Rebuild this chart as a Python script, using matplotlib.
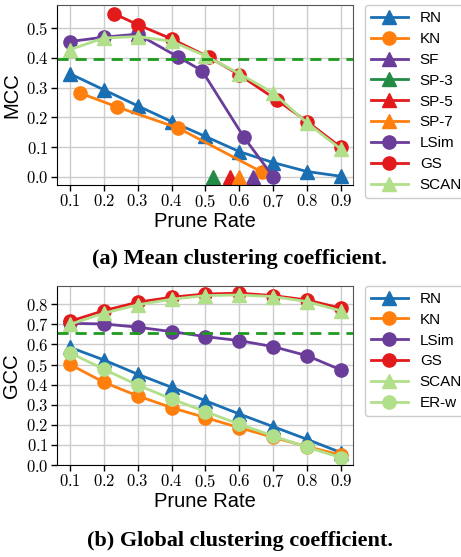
import numpy as np
import matplotlib
matplotlib.use('Agg')
import matplotlib.pyplot as plt

plt.rcParams['mathtext.fontset'] = 'cm'
plt.rcParams['font.family'] = ['Liberation Sans', 'DejaVu Sans']

# cores
c_rn = '#1a6fb3'
c_kn = '#ff7f0e'
c_pur = '#6a3d9a'
c_red = '#e31a1c'
c_lg = '#b2df8a'
c_dg = '#238b45'
c_ref = '#1f9a1f'

# ---- dados (a) MCC ----
x = [0.1, 0.2, 0.3, 0.4, 0.5, 0.6, 0.7, 0.8, 0.9]
mcc_rn = [0.347, 0.293, 0.239, 0.186, 0.136, 0.085, 0.048, 0.018, 0.002]
kn_x = [0.13, 0.24, 0.42, 0.667]
mcc_kn = [0.282, 0.235, 0.164, 0.016]
sf_x = [0.3, np.nan, 0.64]
mcc_sf = [0.48, np.nan, 0.0]
sp3_x, mcc_sp3 = [0.521], [0.0]
sp5_x, mcc_sp5 = [0.571], [0.0]
sp7_x, mcc_sp7 = [0.60], [0.0]
lsim_x = [0.1, 0.2, 0.3, 0.42, 0.49, 0.613, 0.70]
mcc_lsim = [0.455, 0.47, 0.48, 0.403, 0.357, 0.134, 0.0]
gs_x = [0.23, 0.3, 0.4, 0.51, 0.6, 0.71, 0.8, 0.9]
mcc_gs = [0.549, 0.512, 0.464, 0.403, 0.343, 0.259, 0.186, 0.099]
mcc_scan = [0.428, 0.467, 0.472, 0.456, 0.407, 0.347, 0.282, 0.181, 0.093]
mcc_ref = 0.396

# ---- dados (b) GCC ----
gcc_rn = [0.586, 0.523, 0.452, 0.387, 0.32, 0.254, 0.191, 0.128, 0.062]
gcc_kn = [0.501, 0.412, 0.344, 0.286, 0.236, 0.186, 0.138, 0.092, 0.05]
gcc_lsim = [0.705, 0.702, 0.686, 0.664, 0.639, 0.619, 0.589, 0.544, 0.473]
gcc_gs = [0.715, 0.768, 0.81, 0.835, 0.851, 0.855, 0.843, 0.821, 0.78]
gcc_scan = [0.70, 0.755, 0.797, 0.825, 0.843, 0.846, 0.838, 0.813, 0.767]
gcc_erw = [0.559, 0.477, 0.398, 0.329, 0.266, 0.203, 0.145, 0.089, 0.037]
gcc_ref = 0.657

fig = plt.figure(figsize=(4.61, 5.57), dpi=100)
ax1 = fig.add_axes([0.1236, 0.668, 0.642, 0.323])
ax2 = fig.add_axes([0.1236, 0.165, 0.642, 0.322])

ms = 9.5
lw = 2


def estilo(ax, yticks, ylim, ylabel):
    ax.set_xlim(0.062, 0.935)
    ax.set_ylim(*ylim)
    ax.set_xticks(x)
    ax.set_xticklabels(['$%.1f$' % v for v in x], fontsize=12)
    ax.set_yticks(yticks)
    ax.set_yticklabels(['$%.1f$' % v for v in yticks], fontsize=12)
    ax.grid(True, color='#cccccc', lw=1)
    ax.set_axisbelow(True)
    ax.tick_params(direction='out', length=4, width=1, pad=2)
    for s in ['top', 'right']:
        ax.spines[s].set_color('#555555')
    ax.set_xlabel('Prune Rate', fontsize=14.5, labelpad=1)
    ax.set_ylabel(ylabel, fontsize=14.5, labelpad=3)


def legenda(ax):
    ax.legend(loc='upper left', bbox_to_anchor=(1.04, 1.0), fontsize=11,
              handlelength=2.4, borderaxespad=0, labelspacing=0.45,
              borderpad=0.4, handletextpad=0.8, framealpha=1)


# gráfico (a)
ax1.plot(x, mcc_rn, '-^', color=c_rn, lw=lw, ms=ms, label='RN')
ax1.plot(kn_x, mcc_kn, '-o', color=c_kn, lw=lw, ms=ms, label='KN')
ax1.plot(sf_x, mcc_sf, '-^', color=c_pur, lw=lw, ms=ms, label='SF')
ax1.plot(sp3_x, mcc_sp3, '-^', color=c_dg, lw=lw, ms=ms, label='SP-3')
ax1.plot(sp5_x, mcc_sp5, '-^', color=c_red, lw=lw, ms=ms, label='SP-5')
ax1.plot(sp7_x, mcc_sp7, '-^', color=c_kn, lw=lw, ms=ms, label='SP-7')
ax1.plot(lsim_x, mcc_lsim, '-o', color=c_pur, lw=lw, ms=ms, label='LSim')
ax1.plot(gs_x, mcc_gs, '-o', color=c_red, lw=lw, ms=ms, label='GS')
ax1.plot(x, mcc_scan, '-^', color=c_lg, lw=lw, ms=ms, label='SCAN')
ax1.axhline(mcc_ref, color=c_ref, lw=2, ls='--', dashes=(4, 2.5))
estilo(ax1, [0.0, 0.1, 0.2, 0.3, 0.4, 0.5], (-0.027, 0.578), 'MCC')
legenda(ax1)

# gráfico (b)
ax2.plot(x, gcc_rn, '-^', color=c_rn, lw=lw, ms=ms, label='RN')
ax2.plot(x, gcc_kn, '-o', color=c_kn, lw=lw, ms=ms, label='KN')
ax2.plot(x, gcc_lsim, '-o', color=c_pur, lw=lw, ms=ms, label='LSim')
ax2.plot(x, gcc_gs, '-o', color=c_red, lw=lw, ms=ms, label='GS')
ax2.plot(x, gcc_scan, '-^', color=c_lg, lw=lw, ms=ms, label='SCAN')
ax2.plot(x, gcc_erw, '-o', color=c_lg, lw=lw, ms=ms, label='ER-w')
ax2.axhline(gcc_ref, color=c_ref, lw=2, ls='--', dashes=(4, 2.5))
estilo(ax2, [0.0, 0.1, 0.2, 0.3, 0.4, 0.5, 0.6, 0.7, 0.8], (0.0, 0.892), 'GCC')
legenda(ax2)

# legendas das figuras
fig.text(0.52, 1 - 259 / 557, '(a) Mean clustering coefficient.', ha='center',
         va='center', fontsize=16, fontweight='bold', family='Liberation Serif')
fig.text(0.52, 1 - 541 / 557, '(b) Global clustering coefficient.', ha='center',
         va='center', fontsize=16, fontweight='bold', family='Liberation Serif')

fig.savefig('out.png', dpi=100)
